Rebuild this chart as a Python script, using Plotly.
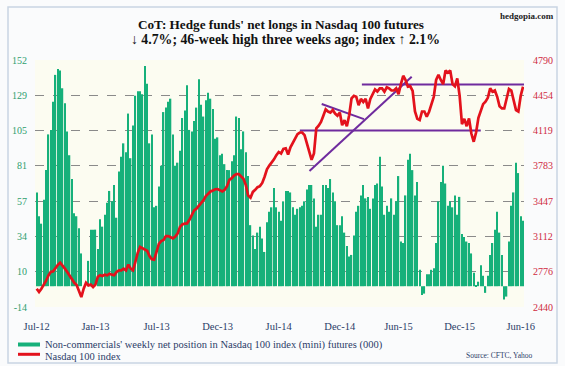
import plotly.graph_objects as go

# Non-commercials' weekly net position in Nasdaq 100 (mini) futures, thousands
net_longs = [
    63, 47, 42, 58, 78, 102, 105, 124, 142, 146, 145, 133, 123, 104, 88, 72, 49, 47, 39, 22,
    0, 0, 17, 38, 38, 38, 25, 45, 40, 48, 56, 64, 57, 68, 46, 77, 87, 96, 90, 116,
    86, 108, 128, 131, 131, 129, 148, 136, 96, 102, 53, 54, 67, 81, 117, 120, 124, 126, 102, 81,
    83, 91, 113, 118, 135, 105, 104, 111, 120, 139, 122, 114, 125, 130, 126, 119, 99, 100, 88, 89,
    82, 78, 78, 84, 88, 114, 113, 92, 104, 90, 74, 41, 34, 25, 36, 40, 32, 23, 43, 50,
    53, 66, 53, 50, 44, 57, 64, 64, 63, 53, 48, 52, 53, 54, 57, 65, 68, 68, 59, 40,
    48, 48, 68, 68, 66, 72, 63, 57, 41, 41, 47, 36, 27, 20, 21, 34, 50, 54, 61, 68,
    59, 60, 52, 59, 68, 69, 87, 67, 48, 54, 50, 59, 48, 57, 74, 30, 29, 61, 85, 89,
    78, 61, 70, 11, -6, -5, 8, 8, 11, 12, 29, 57, 70, 81, 69, 54, 57, 53, 61, 48,
    60, 35, 33, 30, 29, 22, 9, 0.5, 3, 14, 7, -4.5, 7, 21, 29, 38, 50, 36, 21, -9,
    -7, 30, 54, 63, 83, 76, 47, 44,
]

# Nasdaq 100 index, weekly
nasdaq_100 = [
    2614, 2583, 2614, 2646, 2690, 2740, 2773, 2780, 2815, 2840, 2862, 2837, 2805, 2773, 2740, 2700, 2670, 2650, 2600, 2535,
    2614, 2671, 2646, 2653, 2630, 2653, 2726, 2742, 2735, 2748, 2742, 2757, 2748, 2742, 2773, 2789, 2789, 2805, 2789, 2843,
    2805, 2789, 2870, 2955, 3011, 3000, 2990, 2975, 2925, 2895, 2890, 2964, 3040, 3067, 3078, 3115, 3115, 3104, 3093, 3110,
    3140, 3202, 3225, 3234, 3236, 3270, 3310, 3360, 3375, 3400, 3434, 3456, 3495, 3522, 3539, 3549, 3560, 3562, 3551, 3540,
    3555, 3590, 3650, 3665, 3690, 3705, 3705, 3685, 3660, 3600, 3500, 3480, 3535, 3555, 3580, 3590, 3620, 3679, 3750, 3785,
    3810, 3845, 3885, 3915, 3900, 3945, 3950, 3890, 3960, 4005, 4035, 4085, 4100, 4100, 4075, 3990, 3900, 3840, 3900, 4139,
    4165, 4200, 4260, 4320, 4300, 4290, 4314, 4280, 4260, 4290, 4170, 4218, 4160, 4265, 4425, 4450, 4441, 4360, 4420, 4390,
    4420, 4329, 4420, 4460, 4510, 4490, 4520, 4520, 4488, 4530, 4520, 4500, 4500, 4520, 4465, 4560, 4640, 4600, 4536, 4540,
    4495, 4300, 4230, 4218, 4300, 4300, 4250, 4298, 4380, 4440, 4600, 4650, 4600, 4560, 4690, 4670, 4690, 4560, 4540, 4615,
    4450, 4180, 4230, 4160, 4234, 4090, 4012, 4100, 4240, 4314, 4370, 4393, 4430, 4520, 4488, 4500, 4440, 4350, 4329, 4329,
    4420, 4515, 4500, 4400, 4314, 4300, 4450, 4536,
]

weeks = list(range(len(net_longs)))

# x-axis labels (week index where each label sits)
x_tick_pos = [0, 25, 51, 77, 103, 129, 154, 180, 206]
x_tick_text = ["Jul-12", "Jan-13", "Jul-13", "Dec-13", "Jul-14", "Dec-14", "Jun-15", "Dec-15", "Jun-16"]

left_tick_vals = [-14, 9.71, 33.43, 57.14, 80.86, 104.57, 128.29, 152]
left_tick_text = ["-14", "10", "34", "57", "81", "105", "129", "152"]
right_tick_vals = [2440, 2776, 3112, 3447, 3783, 4119, 4454, 4790]
right_tick_text = ["2440", "2776", "3112", "3447", "3783", "4119", "4454", "4790"]

# purple trend lines drawn on the index (week index, index level)
support_x, support_y = [112, 189], [4119, 4119]
resistance_x, resistance_y = [138.4, 209.5], [4558, 4558]
uptrend_x, uptrend_y = [116.1, 159.6], [3733, 4631]
downtrend_x, downtrend_y = [121.3, 139.3], [4371, 4228]

title_line1 = "CoT: Hedge funds' net longs in Nasdaq 100 futures"
title_line2 = "↓ 4.7%; 46-week high three weeks ago; index ↑ 2.1%"
bar_label = "Non-commercials' weekly net position in Nasdaq 100 index (mini) futures (000)"
line_label = "Nasdaq 100 index"

GREEN = "#16b07a"
RED = "#e3121c"
PURPLE = "#6f2b9e"
NAVY = "#2b3b68"
SERIF = "Liberation Serif, Times New Roman, serif"

# plot area in pixels: x 35..524, y 60..307
L, R, T, B = 35, 41, 60, 59
PW, PH = 565 - L - R, 366 - T - B


def px(x):
    return (x - L) / PW


def py(y):
    return (366 - B - y) / PH


fig = go.Figure()
fig.add_trace(go.Bar(x=weeks, y=net_longs, marker=dict(color=GREEN, line=dict(width=0)),
                     name=bar_label, showlegend=False, yaxis="y"))
for tx, ty in [(support_x, support_y), (resistance_x, resistance_y),
               (uptrend_x, uptrend_y), (downtrend_x, downtrend_y)]:
    fig.add_trace(go.Scatter(x=tx, y=ty, mode="lines", line=dict(color=PURPLE, width=2),
                             showlegend=False, yaxis="y2", cliponaxis=False))
fig.add_trace(go.Scatter(x=weeks, y=nasdaq_100, mode="lines", line=dict(color=RED, width=2.7),
                         name=line_label, showlegend=False, yaxis="y2"))

shapes = [
    # outer frame
    dict(type="rect", xref="paper", yref="paper", x0=px(8), x1=px(557), y0=py(363), y1=py(7),
         line=dict(color="#c9d5e2", width=1.5), fillcolor="rgba(0,0,0,0)", layer="below"),
    # legend swatches
    dict(type="line", xref="paper", yref="paper", x0=px(18), x1=px(40), y0=py(344.5), y1=py(344.5),
         line=dict(color=GREEN, width=4)),
    dict(type="line", xref="paper", yref="paper", x0=px(18), x1=px(40), y0=py(354.3), y1=py(354.3),
         line=dict(color=RED, width=3)),
]

annotations = [
    dict(text=title_line2, xref="paper", yref="paper", x=px(285), y=py(39.5), xanchor="center",
         yanchor="middle", showarrow=False, font=dict(family=SERIF, size=13.8, color="#111111", weight="bold")),
    dict(text="hedgopia.com", xref="paper", yref="paper", x=px(556), y=py(16), xanchor="right",
         yanchor="middle", showarrow=False, font=dict(family=SERIF, size=9, color="#222222", weight="bold")),
    dict(text="Source: CFTC, Yahoo", xref="paper", yref="paper", x=px(535), y=py(355), xanchor="right",
         yanchor="middle", showarrow=False, font=dict(family=SERIF, size=7.5, color=NAVY)),
    dict(text=bar_label, xref="paper", yref="paper", x=px(43), y=py(344.5), xanchor="left",
         yanchor="middle", showarrow=False, font=dict(family=SERIF, size=10.5, color=NAVY)),
    dict(text=line_label, xref="paper", yref="paper", x=px(43), y=py(356), xanchor="left",
         yanchor="middle", showarrow=False, font=dict(family=SERIF, size=10.5, color=NAVY)),
]

fig.update_layout(
    width=565, height=366,
    margin=dict(l=L, r=R, t=T, b=B, autoexpand=False),
    paper_bgcolor="#fafbfc",
    plot_bgcolor="#fcfcf1",
    bargap=0.42,
    showlegend=False,
    font=dict(family=SERIF, color=NAVY),
    title=dict(text=title_line1, x=281 / 565, xanchor="center", y=1 - 24.5 / 366, yanchor="middle",
               yref="container", font=dict(family=SERIF, size=13.2, color="#111111", weight="bold")),
    xaxis=dict(range=[-0.72, 207.4], tickmode="array", tickvals=x_tick_pos, ticktext=x_tick_text,
               showgrid=False, zeroline=False, showline=False, ticks="", automargin=False,
               tickfont=dict(family=SERIF, size=10.5, color=NAVY), ticklabelstandoff=11),
    yaxis=dict(range=[-14, 152], tickmode="array", tickvals=left_tick_vals, ticktext=left_tick_text,
               showgrid=True, gridcolor="#8a8a8a", griddash="dash", gridwidth=1,
               zeroline=False, showline=False, ticks="", automargin=False,
               tickfont=dict(family=SERIF, size=10, color="#2e9e6e"), ticklabelstandoff=7),
    yaxis2=dict(range=[2440, 4790], overlaying="y", side="right", tickmode="array",
                tickvals=right_tick_vals, ticktext=right_tick_text, showgrid=False,
                zeroline=False, showline=False, ticks="", automargin=False,
                tickfont=dict(family=SERIF, size=10, color="#cf2a3e"), ticklabelstandoff=8),
    shapes=shapes,
    annotations=annotations,
)

fig.write_html("out.html", config={"displayModeBar": False},
               post_script="document.body.style.margin='0';document.body.style.overflow='hidden';")
